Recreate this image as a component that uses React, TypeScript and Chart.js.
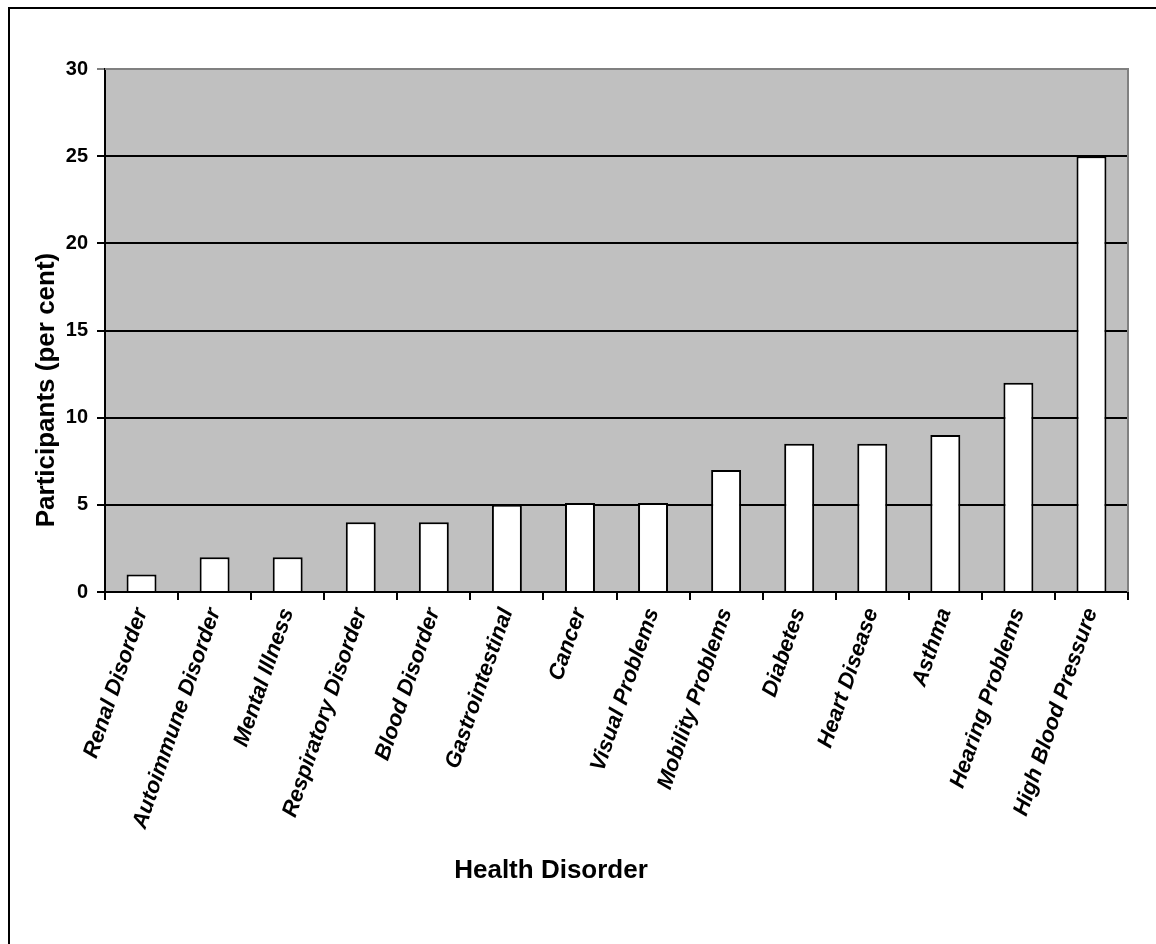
import { useEffect, useRef } from "react";
import { Chart, registerables } from "chart.js";
Chart.register(...registerables);

const categories = [
  "Renal Disorder",
  "Autoimmune Disorder",
  "Mental Illness",
  "Respiratory Disorder",
  "Blood Disorder",
  "Gastrointestinal",
  "Cancer",
  "Visual Problems",
  "Mobility Problems",
  "Diabetes",
  "Heart Disease",
  "Asthma",
  "Hearing Problems",
  "High Blood Pressure",
];
const values = [1, 2, 2, 4, 4, 5, 5.1, 5.1, 7, 8.5, 8.5, 9, 12, 25];
const yMin = 0;
const yMax = 30;
const yStep = 5;
const xTitle = "Health Disorder";
const yTitle = "Participants (per cent)";

const FONT = "'Liberation Sans', Arial, Helvetica, sans-serif";

export default function App() {
  const ref = useRef<HTMLCanvasElement | null>(null);
  useEffect(() => {
    if (!ref.current) return;
    const plotBg = {
      id: "plotBg",
      beforeDraw(chart: any) {
        const { ctx, chartArea: a } = chart;
        ctx.save();
        ctx.fillStyle = "#C0C0C0";
        ctx.fillRect(a.left, a.top, a.right - a.left, a.bottom - a.top);
        ctx.restore();
      },
      afterDatasetsDraw(chart: any) {
        const { ctx, chartArea: a } = chart;
        ctx.save();
        ctx.strokeStyle = "#808080";
        ctx.lineWidth = 2;
        ctx.beginPath();
        ctx.moveTo(a.left, a.top);
        ctx.lineTo(a.right, a.top);
        ctx.lineTo(a.right, a.bottom);
        ctx.stroke();
        ctx.restore();
      },
      afterDraw(chart: any) {
        const { ctx, chartArea: a } = chart;
        ctx.save();
        ctx.fillStyle = "#000";
        ctx.font = `bold 26px ${FONT}`;
        ctx.textAlign = "center";
        ctx.textBaseline = "middle";
        ctx.fillText(xTitle, a.left + 446, a.bottom + 279);
        ctx.translate(a.left - 58, a.top + 321);
        ctx.rotate(-Math.PI / 2);
        ctx.fillText(yTitle, 0, 0);
        ctx.restore();
      },
    };
    const chart = new Chart(ref.current, {
      type: "bar",
      data: {
        labels: categories,
        datasets: [
          {
            data: values,
            backgroundColor: "#FFFFFF",
            borderColor: "#000000",
            borderWidth: 2,
            barPercentage: 0.41,
            categoryPercentage: 1,
          },
        ],
      },
      options: {
        animation: false,
        responsive: false,
        maintainAspectRatio: false,
        layout: { padding: { top: 60, right: 28, left: 0, bottom: 0 } },
        plugins: {
          legend: { display: false },
          tooltip: { enabled: false },
          title: { display: false },
        },
        scales: {
          x: {
            afterFit(scale: any) {
              scale.height = 352;
            },
            grid: {
              offset: true,
              drawOnChartArea: false,
              drawTicks: true,
              tickLength: 8,
              color: "#000",
              lineWidth: 2,
            },
            border: { color: "#000", width: 2 },
            ticks: {
              color: "#000",
              font: { family: FONT, size: 22, weight: "bold", style: "italic" },
              maxRotation: 71,
              minRotation: 71,
              padding: 5,
              autoSkip: false,
            },
          },
          y: {
            min: yMin,
            max: yMax,
            afterFit(scale: any) {
              scale.width = 95;
            },
            grid: {
              color: (c: any) => (c.tick && c.tick.value === yMax ? "#808080" : "#000"),
              lineWidth: 2,
              drawTicks: true,
              tickLength: 8,
            },
            border: { color: "#000", width: 2 },
            ticks: {
              stepSize: yStep,
              color: "#000",
              font: { family: FONT, size: 20, weight: "bold" },
              padding: 9,
            },
          },
        },
      },
      plugins: [plotBg],
    } as any);
    return () => chart.destroy();
  }, []);
  return (
    <div
      style={{
        position: "fixed",
        left: 8,
        top: 7,
        width: 1148,
        height: 937,
        borderLeft: "2px solid #000",
        borderTop: "2px solid #000",
        overflow: "hidden",
        background: "#fff",
      }}
    >
      <canvas ref={ref} width={1146} height={935} style={{ display: "block" }} />
    </div>
  );
}
